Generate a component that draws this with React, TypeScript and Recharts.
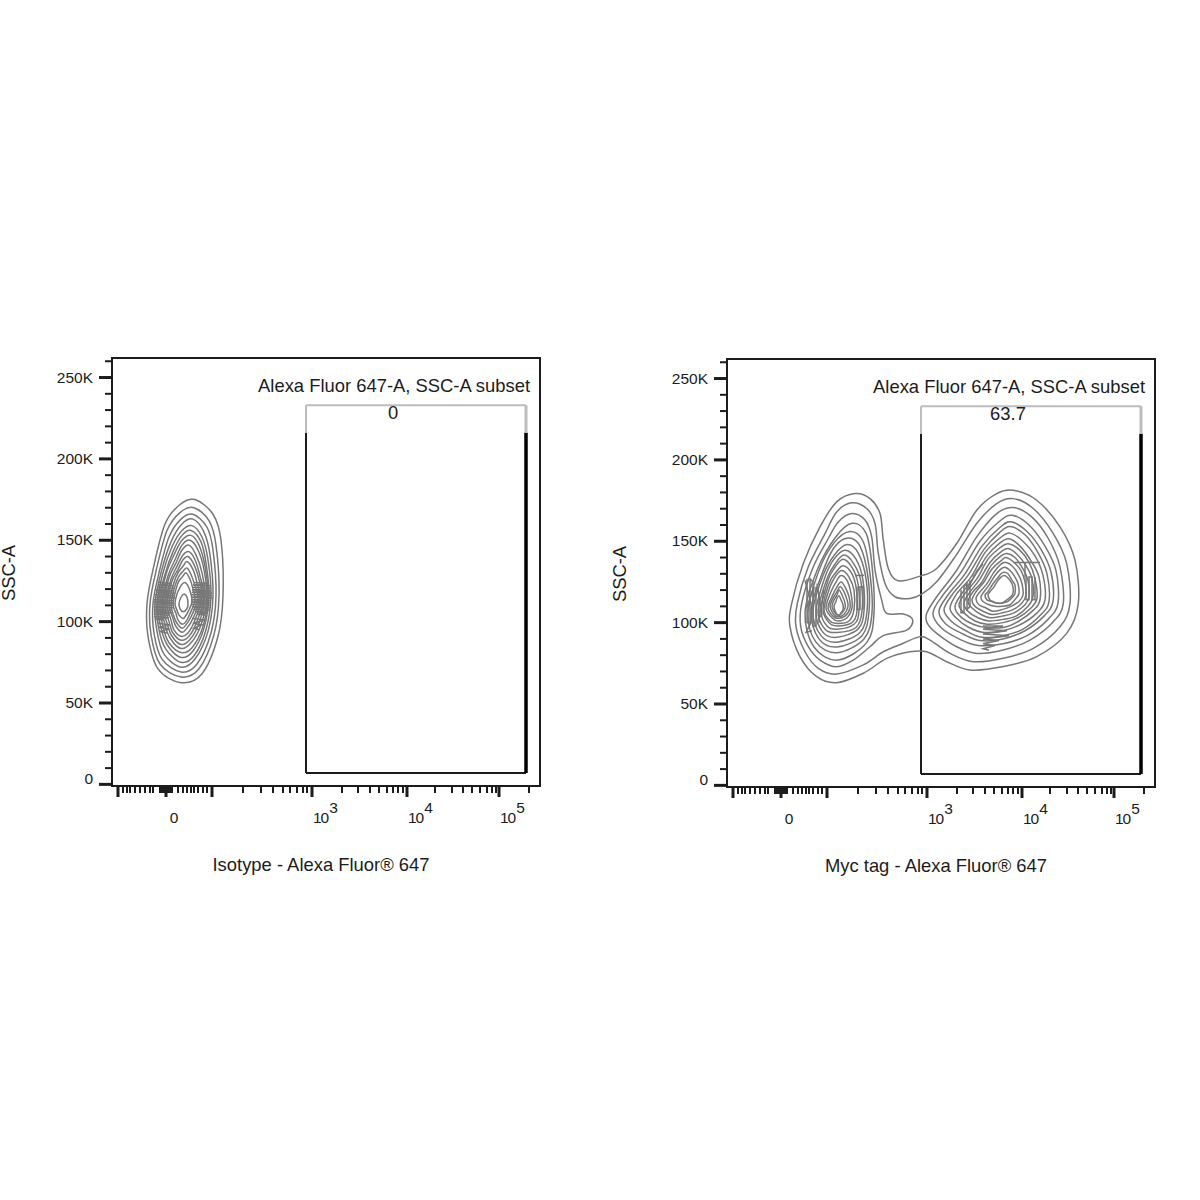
import React from 'react';
import { ScatterChart, Scatter, XAxis, YAxis, ReferenceArea, ReferenceLine, ReferenceDot } from 'recharts';

const FONT = '"Liberation Sans", Arial, sans-serif';
const INK = '#1c1c1c';
const CONTOUR = '#777777';

// x is the biexponential display scale (0-428), y is SSC-A in thousands
const xTicks = [
  6, 11, 15, 18, 23, 28, 33, 38, 41, 48, 50, 52, 54, 56, 58, 60, 66, 71, 75, 79, 82, 86, 91, 95, 100,
  131, 149, 161, 171, 178, 185, 191, 195, 200, 230, 246, 258, 267, 275, 281, 286, 291, 295,
  323, 340, 351, 360, 368, 375, 380, 384, 387, 417,
];
const xMajor = [6, 54, 100, 200, 295, 387];
const xDecades: Record<number, string> = { 200: '3', 295: '4', 387: '5' };
const yTicks = [0, 10, 20, 30, 40, 50, 60, 70, 80, 90, 100, 110, 120, 130, 140, 150, 160, 170, 180, 190, 200, 210, 220, 230, 240, 250, 260];
const yMajor = [0, 50, 100, 150, 200, 250];

const gateX = [194, 414];
const gateY = [7, 216, 233];

const isotypeContours = [
  [[83, 175], [101, 166], [109, 150], [111, 116], [106, 91], [90, 68], [69, 62.5], [46, 71], [36, 91], [35, 111], [41, 132], [53, 160], [68, 172]],
  [[82, 170], [97, 162], [104, 147], [107, 116], [102, 92], [87, 71], [69, 66], [48, 74], [39, 92], [38, 111], [44, 131], [55, 156], [68, 167]],
  [[81, 166], [95, 158], [101, 144], [104, 116], [99, 93], [85, 74], [69, 69], [50, 77], [42, 93], [41, 111], [47, 130], [57, 152], [69, 163]],
  [[81, 163], [92, 155], [98, 141], [101, 116], [96, 94], [83, 77], [69, 72], [52, 80], [45, 94], [43, 111], [49, 130], [59, 149], [70, 160]],
  [[80, 159], [90, 152], [96, 138], [99, 116], [94, 95], [82, 79], [69, 75], [54, 83], [47, 95], [45, 111], [51, 130], [60, 146], [70, 156]],
  [[79, 156], [89, 149], [94, 136], [97, 116], [92, 96], [81, 82], [69, 78], [56, 85], [49, 96], [46, 111], [53, 129], [61, 143], [70, 153]],
  [[79, 153], [87, 147], [93, 134], [96, 116], [91, 97], [80, 84], [69, 81], [57, 87], [51, 97], [48, 111], [54, 129], [62, 141], [70, 150]],
  [[78, 150], [86, 144], [92, 132], [95, 115], [89, 98], [79, 87], [69, 83.5], [59, 89], [53, 98], [50, 111], [56, 128], [63, 138], [70, 147]],
  [[77, 147], [84, 141], [90, 130], [93, 115], [87, 99], [78, 89], [69, 86], [60, 91], [55, 99], [51, 111], [57, 127], [64, 136], [70, 144]],
  [[77, 143], [83, 138], [88, 128], [92, 115], [85, 100], [77, 91], [69, 88.6], [61, 93], [57, 100], [53, 111], [59, 126], [65, 134], [71, 141]],
  [[76, 140], [82, 135], [87, 126], [90, 115], [83, 101], [76, 93], [69, 91], [62, 95], [59, 101], [55, 111], [60, 125], [66, 132], [71, 138]],
  [[75, 137], [81, 132], [85, 124], [88, 114], [81, 102], [75, 96], [70, 93.5], [64, 97], [61, 102], [57, 111], [62, 124], [66, 130], [71, 134]],
  [[75, 133], [79, 129], [83, 122], [86, 114], [79, 103], [74, 98], [70, 96], [65, 99], [62, 103], [59, 111], [63, 122], [67, 128], [71, 131]],
  [[74, 130], [78, 126], [81, 120], [83, 113], [78, 105], [74, 100], [70, 98.4], [66, 101], [64, 105], [61, 111], [64, 120], [67, 125], [71, 128]],
  [[73, 124], [76, 122], [79, 117], [80, 112], [76, 106], [73, 103], [71, 102], [67, 104], [65, 107], [63, 111], [65, 117], [68, 121], [70, 123]],
  [[72, 117], [75, 115], [76, 111], [75, 108], [71, 106], [68, 108], [67, 111], [69, 115]],
];

// the densest bands, where the rings run into solid grey
const isotypeHatch = [
  [[47, 124], [60, 123.5], [46, 122.5], [61, 122], [45, 121], [62, 120.5], [44, 119.5], [62, 119], [44, 118], [63, 117.5], [43, 116.5], [63, 116], [43, 115], [63, 114.5], [42, 113.5], [62, 113], [42, 112], [62, 111.5], [42, 110.5], [62, 110], [42, 109], [61, 108.5], [42, 107.5], [60, 107], [42, 106], [60, 105.5], [42, 104.5], [58, 104], [42, 103], [57, 102.5], [43, 101.5], [52, 101]],
  [[82, 124], [97, 123.5], [81, 122.5], [98, 122], [81, 121], [99, 120.5], [80, 119.5], [99, 119], [80, 118], [100, 117.5], [79, 116.5], [100, 116], [79, 115], [100, 114.5], [79, 113.5], [99, 113], [79, 112], [99, 111.5], [79, 110.5], [98, 110], [80, 109], [98, 108.5], [81, 107.5], [97, 107], [83, 106], [96, 105.5], [85, 104.5], [93, 104]],
  [[46, 99], [58, 98], [47, 96.5], [57, 95.5], [48, 94], [55, 93]],
  [[80, 102], [93, 101], [81, 99], [90, 98], [82, 96], [87, 95]],
];

const mycContours = [
  // the two outer rings wrap both populations
  [[128, 179.3], [143, 176.2], [153, 167], [156.3, 150.7], [161.3, 133.3], [171.3, 125.7], [193, 128.6], [209.7, 133.3], [229.7, 148.6], [249.7, 169.1], [269.7, 179.3], [286.3, 181.3], [309.7, 175.2], [333, 158.8], [348, 138.4], [351.3, 111.8], [339.7, 93.4], [309.7, 79.1], [276.3, 73], [243, 70.9], [219.7, 76], [199.7, 82.1], [183, 82.1], [159.7, 78], [136.3, 68.9], [109.7, 63.1], [89.7, 66.8], [73, 79.1], [63, 97.5], [64.7, 111.8], [76.3, 136.3], [93, 158.8], [109.7, 174.2]],
  [[124.7, 173.6], [139.7, 170.1], [148, 160.9], [151.3, 142.5], [158, 124.1], [168, 115.9], [183, 114.9], [194.7, 117.5], [209.7, 125.1], [228, 140.4], [249.7, 160.9], [269.7, 173.2], [286.3, 176.2], [306.3, 170.1], [326.3, 154.7], [339.7, 136.3], [343, 111.8], [333, 97.5], [306.3, 84.2], [276.3, 78.1], [246.3, 76], [223, 81.1], [203, 89.3], [193, 91.4], [176.3, 87.3], [156.3, 82.1], [136.3, 74], [109.7, 68.4], [91.3, 71.9], [78, 82.1], [69, 97.5], [70.3, 111.8], [81.3, 134.3], [98, 154.7], [109.7, 168]],
  // left population
  [[124.7, 167], [138, 163], [144.7, 152.7], [148, 132.3], [154.7, 113.8], [159.7, 105.7], [176.3, 105.3], [185.7, 101.6], [179.7, 95.4], [156.3, 92], [143, 85.2], [126.3, 77], [109.7, 72.9], [93, 77], [81.3, 85.2], [73.7, 97.5], [74.7, 111.8], [86.3, 134.3], [101.3, 151.7], [111.3, 161.9]],
  [[125, 161], [139, 155], [145, 135], [147, 106], [140, 88], [111, 77], [87, 85], [78, 106], [90, 132], [108, 152]],
  [[123, 156], [136, 150], [143, 130], [145, 106], [137, 90], [110, 81.5], [89, 88], [81, 106], [92, 132], [107, 149]],
  [[121, 152], [133, 147], [141, 128], [142, 107], [135, 92], [110, 85], [92, 90], [84, 107], [95, 130], [107, 146]],
  [[120, 148], [131, 143], [139, 127], [140, 107], [133, 94], [110, 88], [94, 92], [86, 107], [96, 129], [108, 142]],
  [[118, 144.5], [129, 139], [136, 126], [137, 107], [131, 96], [110, 91], [96, 94], [89, 107], [98, 128], [107, 139]],
  [[117, 141.5], [127, 136], [134, 125], [135, 107], [129, 97], [110, 94], [98, 96], [91, 107], [100, 127], [108, 136]],
  [[116, 139], [125, 134], [131, 124], [132, 107], [127, 99], [110, 96], [100, 98], [94, 107], [101, 126], [108, 134]],
  [[116, 135], [124, 131], [129, 122], [130, 107], [125, 100], [110, 98], [102, 100], [96, 108], [102, 124], [109, 131]],
  [[115, 132], [122, 128], [127, 120], [127, 108], [122, 101], [111, 99.5], [103, 101], [97, 108], [103, 122], [109, 129]],
  [[114, 129], [120, 126], [124, 118], [125, 109], [120, 103], [111, 101], [105, 103], [99, 109], [104, 119], [110, 126]],
  [[114, 125], [118, 122], [122, 116], [123, 109], [118, 104], [111, 102.6], [106, 104], [101, 109], [105, 116], [110, 122]],
  [[113, 122], [117, 119], [120, 114], [121, 110], [117, 105], [111, 103.6], [107, 105], [103, 110], [106, 115], [110, 119]],
  [[112, 120], [115, 117], [118, 112], [118, 109], [115, 106], [111, 104.4], [108, 106], [105, 110], [107, 114], [110, 117]],
  [[112, 116.5], [114, 114], [116, 111], [116, 108], [114, 106], [112, 104.4], [109, 106], [107, 110], [109, 113], [110, 115]],
  // right population
  [[199.7, 105.7], [209.7, 115.9], [229.7, 132.2], [249.7, 152.7], [269.7, 167], [286.3, 170.7], [304.7, 165], [321.3, 151.7], [333, 134.3], [336.3, 111.8], [326.3, 100.6], [303, 89.3], [276.3, 83.2], [249.7, 81.1], [229.7, 85.2], [209.7, 93.4], [200.3, 99.5]],
  [[206, 106], [216, 117], [234, 131], [253, 150], [272, 162], [285, 166], [302, 160], [318, 147], [329, 132], [331, 112], [321, 102], [300, 92], [276, 87], [251, 86], [232, 90], [214, 97]],
  [[212, 107], [221, 117], [238, 130], [255, 147], [272, 158], [284, 162], [300, 156], [314, 145], [324, 131], [326, 113], [317, 104], [298, 95], [276, 90], [253, 89], [236, 93], [219, 99]],
  [[217, 108], [225, 117], [241, 129], [257, 145], [272, 155], [283, 159], [298, 154], [311, 143], [320, 130], [322, 113], [314, 105], [296, 96], [276, 92], [255, 91], [239, 95], [224, 101]],
  [[223, 109], [230, 118], [244, 128], [258, 143], [273, 152], [283, 155], [296, 150], [308, 141], [316, 129], [318, 114], [310, 106], [294, 99], [276, 95], [257, 94], [242, 97], [229, 103]],
  [[228, 110], [235, 118], [247, 128], [260, 141], [273, 149], [282, 151.5], [293, 147], [304, 138], [312, 128], [313, 114], [307, 108], [292, 101], [276, 97], [259, 97], [246, 99], [233, 104]],
  [[232, 111], [238, 118], [250, 127], [261, 139], [273, 146], [281, 148.5], [292, 145], [302, 137], [308, 127], [310, 115], [304, 109], [291, 103], [276, 100], [260, 99], [248, 101], [237, 106]],
  [[237, 112], [242, 118], [252, 126], [263, 137], [273, 143], [281, 145.5], [290, 142], [299, 135], [305, 127], [306, 116], [301, 110], [289, 104], [276, 102], [262, 101], [251, 103], [241, 107]],
  [[241, 113], [246, 119], [255, 125], [264, 135], [274, 141], [280, 142.5], [288, 140], [296, 133], [301, 126], [302, 116], [298, 111], [287, 106], [275, 104], [263, 103], [254, 105], [245, 109]],
  [[245, 114], [249, 119], [257, 125], [265, 133], [274, 138], [279, 140], [287, 137], [294, 132], [298, 125], [299, 117], [295, 112], [286, 108], [275, 106], [265, 105], [256, 107], [248, 110]],
  [[249, 115], [253, 119], [260, 124], [267, 131], [274, 136], [279, 137], [285, 135], [291, 130], [295, 124], [296, 117], [292, 113], [284, 110], [275, 108], [266, 107], [259, 109], [252, 111]],
  [[254, 116], [257, 119], [262, 123], [268, 129], [274, 133], [278, 134], [283, 132], [288, 128], [291, 124], [292, 118], [289, 115], [283, 111], [275, 110], [268, 110], [262, 111], [256, 113]],
  [[258, 117], [261, 119], [265, 123], [270, 127], [274, 130], [277, 131], [281, 130], [285, 126], [288, 123], [288, 118], [286, 116], [281, 113], [275, 112], [269, 112], [265, 113], [260, 114]],
  [[261, 117], [263, 119], [267, 122], [271, 126], [274, 128], [277, 129], [280, 128], [284, 125], [286, 122], [286, 118], [284, 116], [280, 114], [275, 112], [270, 112], [266, 113], [263, 114]],
];

const mycHatch = [
  [[128, 129], [137, 129]],
  [[130, 122], [130, 108], [133, 108], [133, 122], [136, 122], [136, 108]],
  [[80, 127], [80, 100], [83, 100], [83, 127], [86, 125], [86, 98], [89, 98], [89, 122], [92, 118], [92, 100]],
  [[78, 126], [84, 112], [80, 110], [87, 122], [84, 100], [79, 94], [85, 95]],
  [[90, 124], [95, 105], [92, 103], [97, 120]],
  [[288, 137], [313, 137], [298, 137], [298, 128]],
  [[299, 128], [299, 114], [302, 114], [302, 128], [305, 128], [305, 114], [308, 114], [308, 128]],
  [[256, 98], [276, 98], [256, 96], [280, 95], [256, 93], [282, 92], [256, 90], [272, 89], [256, 87], [268, 86], [256, 84], [262, 83]],
  [[234, 120], [234, 106], [237, 106], [237, 122], [240, 124], [240, 108], [243, 110], [243, 126]],
  [[240, 120], [250, 132], [256, 136], [246, 128]],
];

const toPoints = (line: number[][]) => line.map(([x, y]) => ({ x, y }));

// closed Catmull-Rom ring, so a contour has no seam where it starts
const closedRing = (ctx: any) => {
  let pts: number[][] = [];
  return {
    areaStart() {},
    areaEnd() {},
    lineStart() {
      pts = [];
    },
    point(x: number, y: number) {
      pts.push([x, y]);
    },
    lineEnd() {
      const n = pts.length;
      ctx.moveTo(pts[0][0], pts[0][1]);
      for (let i = 0; i < n; i++) {
        const p0 = pts[(i + n - 1) % n];
        const p1 = pts[i];
        const p2 = pts[(i + 1) % n];
        const p3 = pts[(i + 2) % n];
        ctx.bezierCurveTo(
          p1[0] + (p2[0] - p0[0]) / 6,
          p1[1] + (p2[1] - p0[1]) / 6,
          p2[0] - (p3[0] - p1[0]) / 6,
          p2[1] - (p3[1] - p1[1]) / 6,
          p2[0],
          p2[1],
        );
      }
      ctx.closePath();
    },
  };
};

const XTick = ({ x, y, payload }: any) => {
  const major = xMajor.includes(payload.value);
  const decade = xDecades[payload.value];
  return (
    <g fontFamily={FONT} fill={INK}>
      <line x1={x} x2={x} y1={y} y2={y + (major ? 11 : 7)} stroke={INK} strokeWidth={major ? 3 : 2} />
      {payload.value === 54 && (
        <text x={x + 8} y={y + 37} textAnchor="middle" fontSize={15.5}>0</text>
      )}
      {decade && (
        <text x={x + 1} y={y + 37} fontSize={15.5} letterSpacing={-1}>
          10<tspan dy={-10} dx={1}>{decade}</tspan>
        </text>
      )}
    </g>
  );
};

const YTick = ({ x, y, payload }: any) => {
  const major = yMajor.includes(payload.value);
  const zero = payload.value === 0;
  return (
    <g>
      <line x1={x - (major ? 13 : 7)} x2={x} y1={y} y2={y} stroke={INK} strokeWidth={major ? 3 : 2} />
      {major && (
        <text x={x - 19} y={zero ? y : y + 5} textAnchor="end" fontSize={15.5} fontFamily={FONT} fill={INK}>
          {zero ? '0' : `${payload.value}K`}
        </text>
      )}
    </g>
  );
};

const Panel = ({ left, top, xTitle, yTitleDx, gateValue, contours, hatch }: any) => (
  <div style={{ position: 'absolute', left: left - 20, top }}>
    <ScatterChart width={580} height={580} margin={{ top: 58, right: 20, bottom: 4, left: 0 }}>
      <XAxis
        type="number"
        dataKey="x"
        domain={[0, 428]}
        ticks={xTicks}
        interval={0}
        tick={<XTick />}
        tickLine={false}
        tickSize={0}
        tickMargin={0}
        height={90}
        axisLine={false}
        label={{ value: xTitle, position: 'insideTop', offset: 72, dx: -5, fontSize: 18.4, fontFamily: FONT, fill: INK }}
      />
      <YAxis
        type="number"
        dataKey="y"
        domain={[-1, 262]}
        ticks={yTicks}
        interval={0}
        tick={<YTick />}
        tickLine={false}
        tickSize={0}
        tickMargin={0}
        width={132}
        axisLine={false}
        label={{ value: 'SSC-A', position: 'center', angle: -90, dx: yTitleDx, dy: 1, fontSize: 18.4, fontFamily: FONT, fill: INK }}
      />
      <ReferenceArea x1={0} x2={428} y1={-1} y2={262} fill="none" stroke={INK} strokeWidth={2} />
      {contours.map((ring: number[][], i: number) => (
        <Scatter
          key={`ring-${i}`}
          data={toPoints(ring)}
          line={{ stroke: CONTOUR, strokeWidth: 1.5 }}
          lineJointType={closedRing as any}
          shape={() => null}
          isAnimationActive={false}
        />
      ))}
      {hatch.map((run: number[][], i: number) => (
        <Scatter
          key={`hatch-${i}`}
          data={toPoints(run)}
          line={{ stroke: CONTOUR, strokeWidth: 1.5 }}
          lineJointType="linear"
          shape={() => null}
          isAnimationActive={false}
        />
      ))}
      <ReferenceLine segment={[{ x: gateX[0], y: gateY[0] }, { x: gateX[1], y: gateY[0] }]} stroke={INK} strokeWidth={2} />
      <ReferenceLine segment={[{ x: gateX[0], y: gateY[0] }, { x: gateX[0], y: gateY[1] }]} stroke={INK} strokeWidth={2} />
      <ReferenceLine segment={[{ x: gateX[1], y: gateY[0] }, { x: gateX[1], y: gateY[1] }]} stroke="#000" strokeWidth={3.5} />
      <ReferenceLine segment={[{ x: gateX[0], y: gateY[1] }, { x: gateX[0], y: gateY[2] }]} stroke="#bdbdbd" strokeWidth={2} />
      <ReferenceLine segment={[{ x: gateX[1], y: gateY[1] }, { x: gateX[1], y: gateY[2] }]} stroke="#bdbdbd" strokeWidth={3} />
      <ReferenceLine segment={[{ x: gateX[0], y: gateY[2] }, { x: gateX[1], y: gateY[2] }]} stroke="#bdbdbd" strokeWidth={2} />
      <ReferenceDot x={423} y={245} r={0} label={{ value: 'Alexa Fluor 647-A, SSC-A subset', position: 'left', fontSize: 18.4, fontFamily: FONT, fill: INK }} />
      <ReferenceDot x={281} y={228.5} r={0} label={{ value: gateValue, position: 'center', fontSize: 18.4, fontFamily: FONT, fill: INK }} />
    </ScatterChart>
  </div>
);

export default function App() {
  return (
    <div style={{ position: 'absolute', left: 0, top: 0, width: 1200, height: 1200, background: '#fff', overflow: 'hidden' }}>
      <Panel left={0} top={300} xTitle="Isotype - Alexa Fluor® 647" yTitleDx={-38} gateValue="0" contours={isotypeContours} hatch={isotypeHatch} />
      <Panel left={615} top={301} xTitle="Myc tag - Alexa Fluor® 647" yTitleDx={-42} gateValue="63.7" contours={mycContours} hatch={mycHatch} />
    </div>
  );
}
